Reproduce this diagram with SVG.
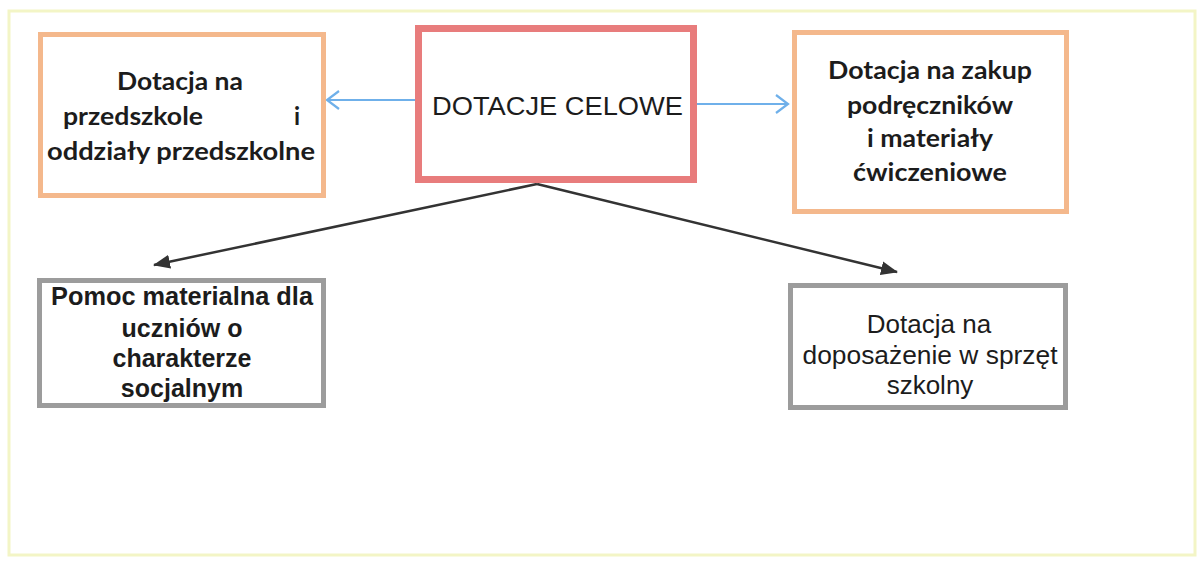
<svg xmlns="http://www.w3.org/2000/svg" width="1202" height="564" viewBox="0 0 1202 564">
  <style>
    .frame { fill: #ffffff; stroke: #f3f5c6; stroke-width: 3; }
    .orange { fill: #ffffff; stroke: #f4b88c; stroke-width: 5; }
    .red { fill: #ffffff; stroke: #e87c7c; stroke-width: 7; }
    .gray { fill: #ffffff; stroke: #9c9c9c; stroke-width: 5; }
    .cal { font-family: Lato, "Open Sans", "Liberation Sans", sans-serif; font-weight: bold; font-size: 24px; fill: #1c1c1c; }
    .ari { font-family: "Liberation Sans", Arial, sans-serif; font-size: 26px; fill: #1c1c1c; }
    .arib { font-family: "Liberation Sans", Arial, sans-serif; font-weight: bold; font-size: 25px; fill: #1c1c1c; }
    .blue { stroke: #6fb0ea; stroke-width: 2; fill: none; }
    .dark { stroke: #333333; stroke-width: 2.5; fill: none; }
  </style>
  <defs>
    <marker id="chev" markerWidth="16" markerHeight="20" refX="14" refY="10" orient="auto" markerUnits="userSpaceOnUse">
      <path d="M2,1 L14,10 L2,19" fill="none" stroke="#6fb0ea" stroke-width="2.2"/>
    </marker>
    <marker id="tri" markerWidth="18" markerHeight="14" refX="16" refY="7" orient="auto" markerUnits="userSpaceOnUse">
      <path d="M0,0 L17,7 L0,14 Z" fill="#333333"/>
    </marker>
  </defs>
  <rect x="0" y="0" width="1202" height="564" fill="#ffffff"/>
  <rect class="frame" x="9" y="11" width="1186" height="544"/>

  <g id="connectors">
    <line class="blue" x1="415" y1="100" x2="327" y2="100" marker-end="url(#chev)"/>
    <line class="blue" x1="697" y1="104" x2="788" y2="104" marker-end="url(#chev)"/>
    <line class="dark" x1="537" y1="184" x2="154" y2="265" marker-end="url(#tri)"/>
    <line class="dark" x1="537" y1="184" x2="897" y2="272" marker-end="url(#tri)"/>
  </g>

  <g id="node-przedszkole">
    <rect class="orange" x="40.5" y="34.5" width="283" height="161"/>
    <text class="cal" x="180" y="90" text-anchor="middle" textLength="126" lengthAdjust="spacingAndGlyphs">Dotacja na</text>
    <text class="cal" x="63" y="125" textLength="140" lengthAdjust="spacingAndGlyphs">przedszkole</text>
    <text class="cal" x="294" y="125">i</text>
    <text class="cal" x="181" y="160" text-anchor="middle" textLength="268" lengthAdjust="spacingAndGlyphs">oddziały przedszkolne</text>
  </g>

  <g id="node-dotacje-celowe">
    <rect class="red" x="418.5" y="28.5" width="275" height="151"/>
    <text class="ari" x="432" y="115" font-size="26" textLength="251" lengthAdjust="spacingAndGlyphs">DOTACJE CELOWE</text>
  </g>

  <g id="node-podreczniki">
    <rect class="orange" x="794.5" y="32.5" width="272" height="179"/>
    <text class="cal" x="930" y="79" text-anchor="middle" textLength="204" lengthAdjust="spacingAndGlyphs">Dotacja na zakup</text>
    <text class="cal" x="930" y="114" text-anchor="middle" textLength="166" lengthAdjust="spacingAndGlyphs">podręczników</text>
    <text class="cal" x="930" y="147" text-anchor="middle" textLength="126" lengthAdjust="spacingAndGlyphs">i materiały</text>
    <text class="cal" x="930" y="181" text-anchor="middle" textLength="154" lengthAdjust="spacingAndGlyphs">ćwiczeniowe</text>
  </g>

  <g id="node-pomoc">
    <rect class="gray" x="39.5" y="280.5" width="284" height="125"/>
    <text class="arib" x="182" y="305" text-anchor="middle" textLength="262" lengthAdjust="spacingAndGlyphs">Pomoc materialna dla</text>
    <text class="arib" x="182" y="337" text-anchor="middle">uczniów o</text>
    <text class="arib" x="182" y="367" text-anchor="middle">charakterze</text>
    <text class="arib" x="182" y="397" text-anchor="middle">socjalnym</text>
  </g>

  <g id="node-doposazenie">
    <rect class="gray" x="790.5" y="285.5" width="275" height="122"/>
    <text class="ari" x="929" y="333" text-anchor="middle">Dotacja na</text>
    <text class="ari" x="930" y="364" text-anchor="middle" textLength="255" lengthAdjust="spacingAndGlyphs">doposażenie w sprzęt</text>
    <text class="ari" x="930" y="394" text-anchor="middle">szkolny</text>
  </g>
</svg>
